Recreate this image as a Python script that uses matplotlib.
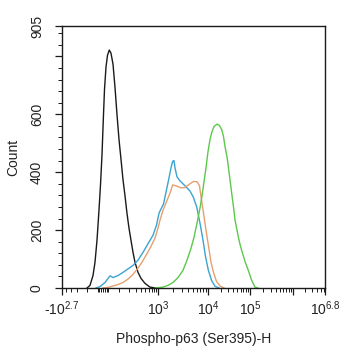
import numpy as np
import matplotlib
matplotlib.use("Agg")
import matplotlib.pyplot as plt
from matplotlib.ticker import FixedLocator, MultipleLocator

plt.rcParams['font.family'] = ['Liberation Sans', 'DejaVu Sans']
plt.rcParams['mathtext.fontset'] = 'custom'
plt.rcParams['mathtext.rm'] = 'Liberation Sans'
plt.rcParams['mathtext.it'] = 'Liberation Sans'
plt.rcParams['mathtext.default'] = 'regular'

# ---- data (fluorescence intensity, count) ----
black_x = [-103, -80.2, -59.5, -46.7, -34.5, -22.8, -14.2, -5.65, 1.64, 8.19, 16.4, 24.8, 35, 45, 57.3, 70.2, 83.9, 98.7, 115, 132, 151, 171, 194, 219, 247, 277, 330, 391, 488, 644, 896]
black_c = [0, 9, 43, 89, 165, 269, 356, 460, 582, 686, 763, 804, 822, 811, 773, 693, 599, 513, 443, 374, 318, 259, 207, 165, 123, 89, 54, 33, 16, 3, 0]

blue_x = [-40.6, -17, 10.9, 39.1, 57.3, 91.2, 132, 183, 247, 330, 437, 577, 760, 921, 1050, 1150, 1290, 1480, 1660, 1820, 1970, 2090, 2190, 2400, 2760, 3470, 4370, 5080, 5950, 6920, 7950, 8910, 10200, 12200, 14700, 18300]
blue_c = [0, 5, 19, 42, 36, 43, 54, 66, 78, 96, 123, 153, 182, 217, 259, 273, 290, 339, 380, 415, 438, 440, 415, 384, 370, 353, 335, 314, 280, 224, 165, 109, 61, 26, 6, 0]

orange_x = [0, 27.6, 57.3, 91.2, 132, 183, 247, 330, 413, 516, 644, 848, 1000, 1100, 1260, 1450, 1740, 1970, 2290, 2890, 3470, 4370, 5130, 6030, 6760, 7420, 8130, 9120, 10200, 11800, 13500, 15900, 19300, 24000]
orange_c = [0, 2, 7, 12, 19, 31, 47, 69, 89, 113, 137, 172, 207, 235, 269, 294, 328, 356, 353, 346, 347, 360, 368, 367, 353, 304, 259, 200, 148, 89, 54, 23, 7, 0]

green_x = [848.3, 1260, 1586, 1998, 2515, 3165, 3805, 4574, 5251, 6029, 6921, 7588, 8319, 9121, 10000, 11160, 12450, 13900, 16380, 18790, 21190, 23390, 25400, 28340, 30430, 33410, 36670, 40470, 43940, 49030, 52650, 57800, 63440, 70020, 76020, 91100, 109500, 130700, 153500]
green_c = [0, 3, 9, 19, 36, 61, 96, 137, 175, 224, 276, 318, 367, 415, 471, 513, 540, 558, 566, 561, 547, 523, 489, 453, 420, 374, 327, 280, 235, 200, 177, 151, 130, 109, 92, 61, 26, 3, 0]

x_tick_vals = [-10**2.7, 1e3, 1e4, 1e5, 1e6, 10**6.8]
x_tick_labels = ['-10$^{2.7}$', '10$^{3}$', '10$^{4}$', '10$^{5}$', '', '10$^{6.8}$']
y_tick_vals = [0, 200, 400, 600, 800, 905]
y_tick_labels = ['0', '200', '400', '600', '', '905']

# ---- biexponential-like display scale ----
_anchor_vals = np.array([-10**2.7, 0, 1e3, 1e4, 1e5, 1e6, 10**6.8])
_anchor_pos = np.array([62, 103, 158, 208, 250, 293, 325.0])
_U = np.arcsinh(_anchor_vals / 100)
_Ue = np.concatenate([[_U[0] - 50], _U, [_U[-1] + 50]])
_Pe = np.concatenate([[_anchor_pos[0] - 50 * 17.7], _anchor_pos, [_anchor_pos[-1] + 50 * 17.4]])

def fwd(x):
    return np.interp(np.arcsinh(np.asarray(x, float) / 100), _Ue, _Pe)

def inv(p):
    return 100 * np.sinh(np.interp(np.asarray(p, float), _Pe, _Ue))

fig = plt.figure(figsize=(3.42, 3.50), dpi=100)
ax = fig.add_axes([62/342, 1 - 288/350, (325-62)/342, (288-26)/350])
ax.set_xscale('function', functions=(fwd, inv))

ax.plot(black_x, black_c, color='#1a1a1a', lw=1.0)
ax.plot(blue_x, blue_c, color='#3aa3d2', lw=1.0)
ax.plot(orange_x, orange_c, color='#e5a070', lw=1.0)
ax.plot(green_x, green_c, color='#5cc84c', lw=1.0)

ax.set_xlim(-10**2.7, 10**6.8)
ax.set_ylim(0, 905)

ax.xaxis.set_major_locator(FixedLocator(x_tick_vals))
ax.set_xticklabels(x_tick_labels)
minor_x = [-400, -300, -200, -100, -30, -20, -10, 0, 10, 20, 30] + \
          list(range(100, 1000, 100)) + \
          [m * 10**e for e in (3, 4, 5) for m in range(2, 10)] + \
          [m * 1e6 for m in range(2, 7)]
ax.xaxis.set_minor_locator(FixedLocator(minor_x))

ax.yaxis.set_major_locator(FixedLocator(y_tick_vals))
ax.set_yticklabels(y_tick_labels, rotation=90, va='center')
ax.yaxis.set_minor_locator(MultipleLocator(40))

ax.tick_params(which='major', direction='out', length=5, width=0.9, colors='#1a1a1a', labelsize=10, labelcolor='#222222')
ax.tick_params(which='minor', direction='out', length=3, width=0.7, colors='#1a1a1a')
ax.tick_params(axis='x', which='major', pad=3)
ax.tick_params(axis='y', which='major', pad=8)
for s in ax.spines.values():
    s.set_linewidth(1.0)
    s.set_color('#1a1a1a')

ax.set_xlabel('Phospho-p63 (Ser395)-H', fontsize=10, color='#222222', labelpad=10)
ax.set_ylabel('Count', fontsize=10, color='#222222', labelpad=7)

fig.savefig('out.png', dpi=100)
